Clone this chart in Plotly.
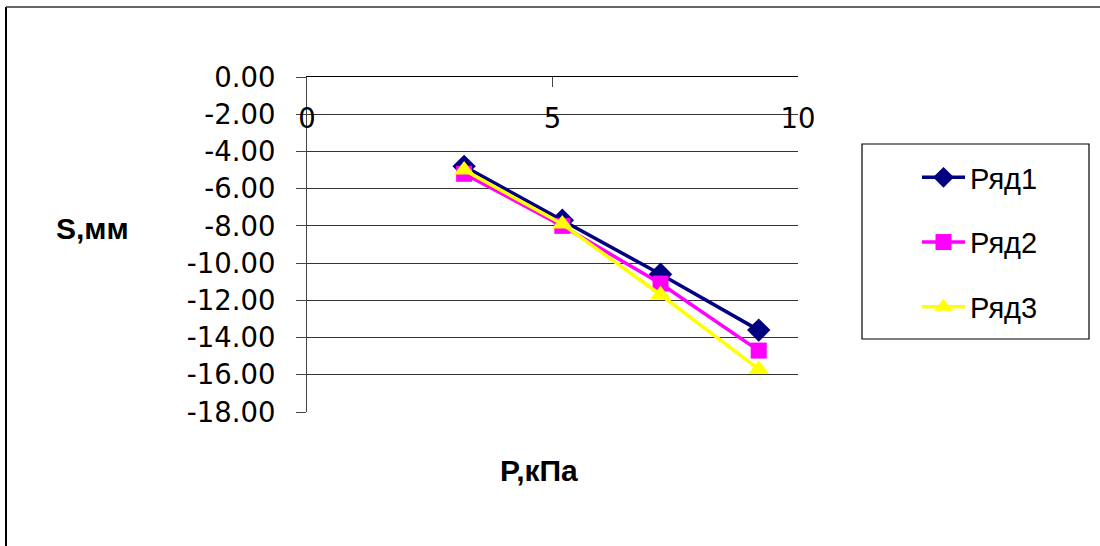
import plotly.graph_objects as go

# Data
p_kpa = [3.2, 5.2, 7.2, 9.2]
series_names = ["Ряд1", "Ряд2", "Ряд3"]
s_row1 = [-4.8, -7.7, -10.6, -13.6]
s_row2 = [-5.2, -8.0, -11.1, -14.7]
s_row3 = [-5.0, -7.9, -11.7, -15.7]
y_ticks = [0, -2, -4, -6, -8, -10, -12, -14, -16, -18]
x_ticks = [0, 5, 10]

W, H = 1100, 546
L, R, T, B = 307, 302, 77, 134
pw, ph = W - L - R, H - T - B

def px(x):
    return (x - L) / pw

def py(y):
    return 1 - (y - T) / ph

TICKFONT = dict(family="DejaVu Sans, sans-serif", size=27.5, color="black")
LEGFONT = dict(family="Liberation Sans, Arial, sans-serif", size=29, color="black")
TITLEFONT = dict(family="Liberation Sans, Arial, sans-serif", size=30, color="black")

colors = ["#000080", "#FF00FF", "#FFFF00"]
symbols = ["diamond", "square", "triangle-up"]
sizes = [18, 16, 18]
data = [s_row1, s_row2, s_row3]

fig = go.Figure()
for i, (name, ys) in enumerate(zip(series_names, data)):
    fig.add_trace(go.Scatter(
        x=p_kpa, y=ys, name=name, mode="lines+markers",
        line=dict(color=colors[i], width=3.5),
        marker=dict(symbol=symbols[i], size=sizes[i], color=colors[i]),
        legendgroup=name,
    ))

# invisible trace on overlay axis carrying the x tick labels
fig.add_trace(go.Scatter(x=[0, 10], y=[0, 0], xaxis="x2", mode="markers",
                         marker=dict(opacity=0), showlegend=False, hoverinfo="skip"))

fig.update_layout(
    width=W, height=H,
    margin=dict(l=L, r=R, t=T, b=B),
    paper_bgcolor="white", plot_bgcolor="white",
    font=LEGFONT,
    showlegend=True,
    xaxis=dict(range=[0, 10], side="top", showline=True, linecolor="black", linewidth=1,
               ticks="inside", ticklen=10, tickcolor="#444", tickvals=x_ticks,
               showticklabels=False, showgrid=False, zeroline=False, mirror=False),
    xaxis2=dict(range=[0, 10], overlaying="x", anchor="free", position=py(99),
                side="bottom", tickvals=x_ticks, ticktext=[str(v) for v in x_ticks],
                showline=False, showgrid=False, zeroline=False, ticks="",
                tickfont=TICKFONT),
    yaxis=dict(range=[-18, 0], tickvals=y_ticks, ticktext=[f"{v:.2f}" for v in y_ticks],
               showline=True, linecolor="#444", linewidth=1, ticks="outside", ticklen=10,
               tickcolor="#444", showgrid=True, gridcolor="#333", gridwidth=1,
               zeroline=False, ticklabelstandoff=15, tickfont=TICKFONT),
    legend=dict(x=px(917), y=py(152), xanchor="left", yanchor="top",
                borderwidth=0, bgcolor="rgba(0,0,0,0)",
                font=LEGFONT, tracegroupgap=24, itemwidth=43),
    annotations=[
        dict(text="<b>S,мм</b>", xref="paper", yref="paper", x=px(92), y=py(228),
             xanchor="center", yanchor="middle", showarrow=False, font=TITLEFONT),
        dict(text="<b>P,кПа</b>", xref="paper", yref="paper", x=px(539), y=py(470),
             xanchor="center", yanchor="middle", showarrow=False, font=TITLEFONT),
    ],
    shapes=[
        dict(type="rect", xref="paper", yref="paper", x0=px(862), x1=px(1089),
             y0=py(144), y1=py(339), line=dict(color="black", width=1.2),
             fillcolor="rgba(0,0,0,0)", layer="below"),
        dict(type="line", xref="paper", yref="paper", x0=px(6), x1=px(6), y0=py(7), y1=py(560),
             line=dict(color="black", width=2)),
        dict(type="line", xref="paper", yref="paper", x0=px(6), x1=px(1110), y0=py(7), y1=py(7),
             line=dict(color="#333", width=1.5)),
    ],
)

fig.write_html("out.html")
